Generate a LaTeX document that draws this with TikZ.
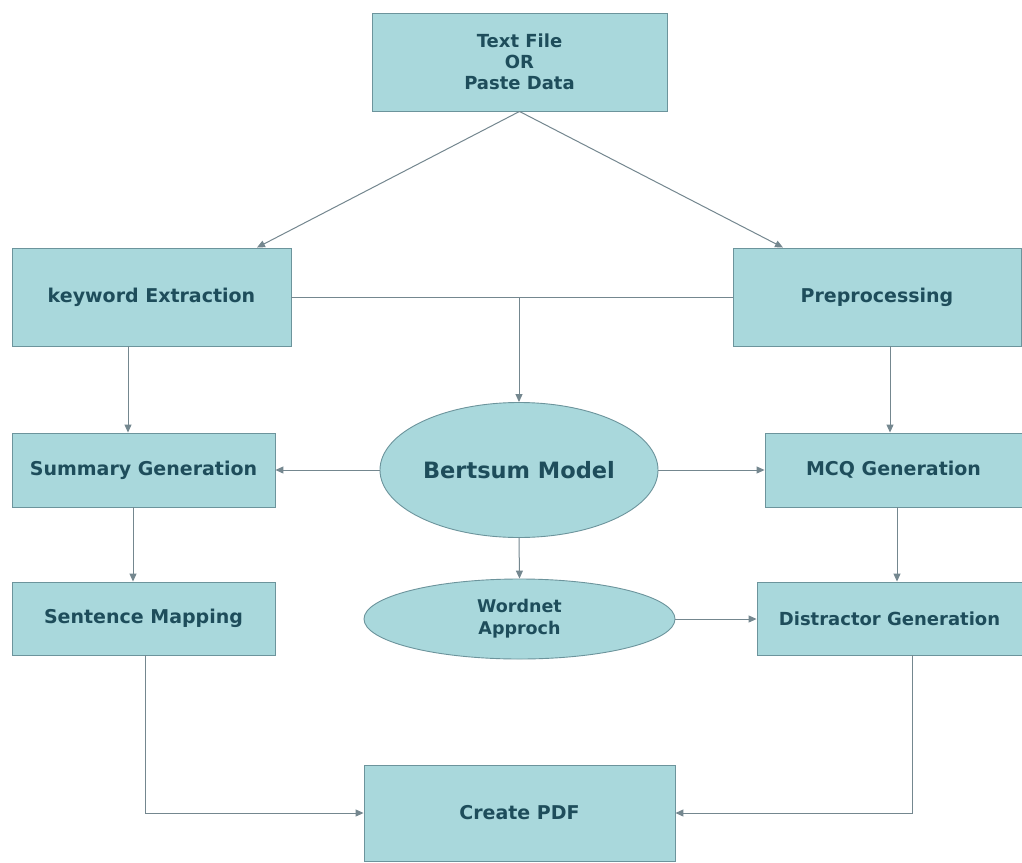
\documentclass[tikz,border=0pt]{standalone}
\usepackage{fontspec}
\setmainfont{DejaVu Sans}
\usetikzlibrary{arrows.meta,shapes.geometric}
\definecolor{boxfill}{HTML}{A9D8DC}
\definecolor{boxline}{HTML}{6C949C}
\definecolor{boxtext}{HTML}{1E4D5B}
\definecolor{wirecol}{HTML}{74878F}

\begin{document}
\begin{tikzpicture}[x=1pt,y=-1pt,
  block/.style={draw=boxline,fill=boxfill,line width=0.9pt,inner sep=0pt,
    text=boxtext,align=center,font=\bfseries\fontsize{19}{22}\selectfont},
  oval/.style={block,ellipse},
  wire/.style={draw=wirecol,line width=1pt},
  arr/.style={wire,-{Triangle[length=8pt,width=7pt]}}]
\useasboundingbox[fill=white] (0,0) rectangle (1022,862);
% boxes
\node[block,minimum width=295pt,minimum height=98pt,font=\bfseries\fontsize{18}{21}\selectfont]
  (txt) at (519.5,62) {Text File\\OR\\Paste Data};
\node[block,minimum width=279pt,minimum height=98pt] (kw) at (151.5,297) {keyword Extraction};
\node[block,minimum width=288pt,minimum height=98pt] (prep) at (877,297) {Preprocessing};
\node[oval,minimum width=278pt,minimum height=135pt,font=\bfseries\fontsize{22.5}{26}\selectfont]
  (bert) at (519,470) {Bertsum Model};
\node[block,minimum width=263pt,minimum height=74pt] (sum) at (143.5,470) {Summary Generation};
\node[block,minimum width=257pt,minimum height=74pt] (mcq) at (893.5,470) {MCQ Generation};
\node[oval,minimum width=311pt,minimum height=80pt,font=\bfseries\fontsize{17.5}{22}\selectfont]
  (wn) at (519.5,619) {Wordnet\\Approch};
\node[block,minimum width=263pt,minimum height=73pt] (map) at (143.5,618.5) {Sentence Mapping};
\node[block,minimum width=265pt,minimum height=73pt,font=\bfseries\fontsize{18}{21}\selectfont]
  (dis) at (889.5,618.5) {Distractor Generation};
\node[block,minimum width=311pt,minimum height=96pt] (pdf) at (519.5,813) {Create PDF};
% connectors
\draw[arr] (txt.south) -- ([xshift=105.5pt]kw.north);
\draw[arr] (txt.south) -- ([xshift=-94pt]prep.north);
\draw[wire] (kw.east) -- (prep.west);
\draw[arr] (kw.east -| bert.north) -- (bert.north);
\draw[arr] ([xshift=-23.5pt]kw.south) -- ([xshift=-15.5pt]sum.north);
\draw[arr] ([xshift=13pt]prep.south) -- ([xshift=-3.5pt]mcq.north);
\draw[arr] (bert.west) -- (sum.east);
\draw[arr] (bert.east) -- (mcq.west);
\draw[arr] (bert.south) -- (wn.north);
\draw[arr] ([xshift=-10.5pt]sum.south) -- ([xshift=-10.5pt]map.north);
\draw[arr] ([xshift=3.5pt]mcq.south) -- ([xshift=7.5pt]dis.north);
\draw[arr] (wn.east) -- (wn.east -| dis.west);
\draw[arr] ([xshift=1.5pt]map.south) |- (pdf.west);
\draw[arr] ([xshift=22.5pt]dis.south) |- (pdf.east);
\end{tikzpicture}
\end{document}
